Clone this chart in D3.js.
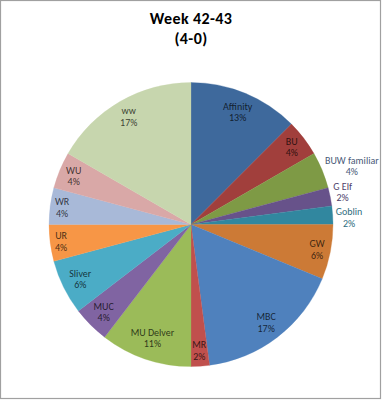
<!DOCTYPE html>
<html><head><meta charset="utf-8">
<script src="https://cdn.jsdelivr.net/npm/d3@7"></script>
<style>
html,body{margin:0;padding:0;background:#fff;}
svg{display:block;}
</style></head>
<body>
<svg id="chart" width="382" height="400"></svg>
<script>
const titleLines = ["Week 42-43", "(4-0)"];
const categories = ["Affinity","BU","BUW familiar","G Elf","Goblin","GW","MBC","MR","MU Delver","MUC","Sliver","UR","WR","WU","ww"];
const counts = [6,2,2,1,1,3,8,1,5,2,3,2,2,2,8];
const percentLabels = ["13%","4%","4%","2%","2%","6%","17%","2%","11%","4%","6%","4%","4%","4%","17%"];
const colors = ["#3E699C","#A13F3C","#7E9A45","#67528A","#31879F","#CC7A36","#4F81BD","#C0504D","#9BBB59","#8064A2","#4BACC6","#F79646","#A8B9D8","#D9A8A7","#C7D6AE"];
const outsideLabels = ["BUW familiar","G Elf","Goblin"];
const outsideColors = {"BUW familiar":"#4A5A78","G Elf":"#4E3F6A","Goblin":"#2F6E80"};

const svg = d3.select("#chart");
const W = 382, H = 400;
svg.append("rect").attr("x",0.5).attr("y",0.5).attr("width",W-2).attr("height",H-2)
  .attr("fill","#fff").attr("stroke","#a0a0a0").attr("stroke-width",1.2);

const font = "Calibri, Carlito, Lato, 'Liberation Sans', sans-serif";
titleLines.forEach((t,i)=>svg.append("text").attr("x",191).attr("y",24 + i*19.8)
  .attr("text-anchor","middle").attr("font-family",font).attr("letter-spacing","0.4px")
  .attr("font-weight","bold").attr("font-size","16px").attr("fill","#000").text(t));

const cx = 191, cy = 224.5, r = 142;
const data = categories.map((c,i)=>({name:c, value:counts[i], label:percentLabels[i], color:colors[i]}));
const pie = d3.pie().value(d=>d.value).sort(null);
const arcs = pie(data);
const arc = d3.arc().innerRadius(0).outerRadius(r);
const g = svg.append("g").attr("transform",`translate(${cx},${cy})`);
g.selectAll("path").data(arcs).join("path")
  .attr("d",arc).attr("fill",d=>d.data.color)
  .attr("stroke",d=>d.data.color).attr("stroke-width",0.3);

const lineH = 11.5, boxH = 23, Rin = 139;
function makeLabel(a, out){
  const t = g.append("text").attr("font-family",font).attr("font-size","10px")
    .attr("text-anchor","middle")
    .attr("fill", out ? outsideColors[a.data.name] : "#000")
    .attr("fill-opacity", out ? 1 : 0.72);
  const t1 = t.append("tspan").text(a.data.name);
  const t2 = t.append("tspan").text(a.data.label);
  const w = Math.max(t1.node().getComputedTextLength(), t2.node().getComputedTextLength());
  return {a, t1, t2, w, out, mid:(a.startAngle+a.endAngle)/2};
}
function place(L, x, y){
  L.t1.attr("x",x).attr("y",y - lineH/2 + 3.5);
  L.t2.attr("x",x).attr("y",y + lineH/2 + 3.5);
}
const labels = arcs.map(a=>makeLabel(a, outsideLabels.includes(a.data.name)));
labels.filter(L=>!L.out).forEach(L=>{
  const sx = Math.sin(L.mid), sy = -Math.cos(L.mid);
  let d = 60;
  for(let k=60;k<=140;k+=0.5){
    const x = sx*k, y = sy*k;
    const corners = [[x-L.w/2,y-boxH/2],[x+L.w/2,y-boxH/2],[x-L.w/2,y+boxH/2],[x+L.w/2,y+boxH/2]];
    if(corners.every(c=>Math.hypot(c[0],c[1])<=Rin)) d = k; else break;
  }
  place(L, sx*d, sy*d);
});
const outs = labels.filter(L=>L.out).map(L=>{
  const left = Math.sin(L.mid)*(r+3);
  const y = -Math.cos(L.mid)*(r+10);
  return {L, x:left + L.w/2, y};
}).sort((p,q)=>p.y-q.y);
const gap = 25.8;
for(let it=0; it<50; it++){
  for(let i=1;i<outs.length;i++){
    const dy = outs[i].y - outs[i-1].y;
    if(dy < gap){ const s=(gap-dy)/2; outs[i].y += s; outs[i-1].y -= s; }
  }
}
outs.forEach(o=>place(o.L, o.x, o.y));
</script>
</body></html>
